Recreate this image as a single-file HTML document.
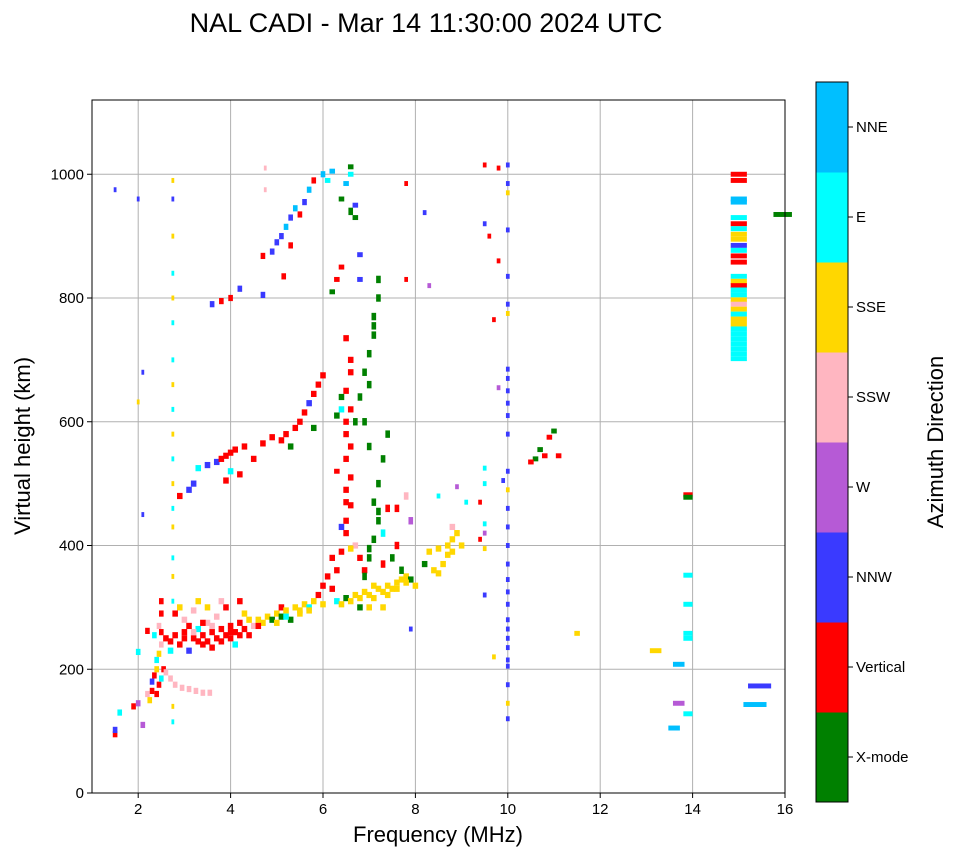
<!DOCTYPE html>
<html><head><meta charset="utf-8"><style>
body{margin:0;background:#fff;font-family:"Liberation Sans",sans-serif}
svg text{font-family:"Liberation Sans",sans-serif;fill:#000}
</style></head><body>
<svg id="chart" width="958" height="857" xmlns="http://www.w3.org/2000/svg">
<rect width="958" height="857" fill="#fff"/>
<text x="426" y="32" font-size="27" text-anchor="middle">NAL CADI - Mar 14 11:30:00 2024 UTC</text>
<g id="grid"></g><g id="marks"></g><g id="axes"></g><g id="cbar"></g>
<text x="438" y="842" font-size="22" text-anchor="middle">Frequency (MHz)</text>
<text transform="translate(30,446) rotate(-90)" font-size="22" text-anchor="middle">Virtual height (km)</text>
<text transform="translate(943,442) rotate(-90)" font-size="22" text-anchor="middle">Azimuth Direction</text>
</svg>
<script>
const xTicks=[2,4,6,8,10,12,14,16];
const yTicks=[0,200,400,600,800,1000];
const dirLabels=["X-mode","Vertical","NNW","W","SSW","SSE","E","NNE"];
const dirColors=["#008000","#ff0000","#3a3aff","#b65ad6","#ffb6c1","#ffd700","#00ffff","#00bfff"];
const lowTrace=[[1.5,95,1],[1.5,102,2],[1.6,130,6],[1.9,140,1],[2.0,145,3],[2.0,228,6],[2.1,110,3],[2.2,160,4],[2.25,150,5],[2.3,165,1],[2.3,180,2],[2.35,190,1],[2.4,200,5],[2.4,215,6],[2.45,225,5],[2.45,175,1],[2.5,240,4],[2.5,260,1],[2.5,290,1],[2.5,310,1],[2.55,200,1],[2.7,185,4],[2.8,175,4],[2.95,170,4],[3.1,168,4],[3.25,165,4],[3.4,162,4],[3.55,162,4],[2.35,255,6],[2.2,262,1],[2.45,270,4],[2.4,160,1],[2.5,185,6],[2.6,195,4]];
const fTrace=[[2.6,250,1],[2.7,245,1],[2.8,255,1],[2.9,240,1],[3.0,260,1],[3.0,280,4],[3.1,270,1],[3.2,250,1],[3.3,265,6],[3.3,245,1],[3.4,255,1],[3.5,245,1],[3.5,275,4],[3.6,260,1],[3.7,250,1],[3.7,285,4],[3.8,265,1],[3.9,255,1],[3.9,300,1],[4.0,270,1],[4.0,250,1],[4.1,260,1],[4.2,275,1],[4.3,265,1],[4.3,290,5],[4.4,255,1],[4.5,270,4],[4.6,280,5],[4.7,275,5],[4.8,285,5],[4.9,280,0],[5.0,290,5],[5.1,285,0],[5.1,300,1],[5.2,295,5],[5.3,280,0],[5.4,300,5],[5.5,295,5],[5.6,305,5],[5.7,300,6],[5.8,310,5],[5.9,320,1],[6.0,335,1],[6.0,305,5],[6.1,350,1],[2.9,300,5],[3.2,295,4],[3.5,300,5],[3.8,310,4],[4.2,310,1],[2.7,230,6],[3.1,230,2],[3.6,235,1],[4.1,240,6],[2.8,290,1],[3.3,310,5],
[3.0,250,1],[3.4,240,1],[3.6,270,4],[3.8,245,1],[4.0,260,1],[4.2,255,1],[4.4,280,5],[4.6,270,1],[5.0,275,5],[5.2,285,6],[5.5,290,5],[5.7,295,5],[3.2,260,4],[3.4,275,1],
[6.3,310,6],[6.4,305,5],[6.5,315,0],[6.6,310,5],[6.7,320,5],[6.8,315,5],[6.9,325,5],[7.0,320,5],[7.1,315,5],[7.2,330,5],[7.3,325,5],[7.4,335,5],[7.5,330,5],[7.6,340,5],[7.7,345,5],[7.8,350,5],[7.9,345,0],[8.0,335,5],[8.2,370,0],[8.4,360,5],[8.5,355,5],[8.6,370,5],[8.7,385,5],[8.8,390,5],[8.8,410,5],[8.8,430,4],[8.5,395,5],[8.3,390,5],[9.0,400,5],[7.0,300,5],[7.3,300,5],[6.8,300,0],[7.1,335,5],[7.4,320,5],[7.6,330,5],[7.8,340,5],[8.7,400,5],[8.9,420,5]];
const redStreak=[[6.2,330,1],[6.3,360,1],[6.2,380,1],[6.4,390,1],[6.5,420,1],[6.5,440,1],[6.6,465,1],[6.5,490,1],[6.6,510,1],[6.5,540,1],[6.5,580,1],[6.6,620,1],[6.5,650,1],[6.6,700,1],[6.5,735,1],[6.4,640,0],[6.3,610,0],[6.4,620,6],[6.7,400,4],[6.8,380,1],[6.9,360,1],[6.6,395,5],[6.4,430,2],[6.5,470,1],[6.6,560,1],[6.5,600,1],[6.6,680,1]];
const xTrace=[[6.9,350,0],[7.0,380,0],[7.1,410,0],[7.2,440,0],[7.1,470,0],[7.2,500,0],[7.3,540,0],[7.4,580,0],[7.0,560,0],[6.9,600,0],[6.8,640,0],[6.9,680,0],[7.0,710,0],[7.1,740,0],[7.1,770,0],[7.2,800,0],[7.2,830,0],[6.7,600,0],[6.6,940,0],[7.5,380,0],[7.6,400,1],[7.3,420,6],[7.4,460,1],[7.6,460,1],[7.8,480,4],[7.7,360,0],[7.3,370,1],[7.9,440,3],[7.0,395,0],[7.2,455,0],[7.0,660,0],[7.1,755,0]];
const hop2=[[2.9,480,1],[3.1,490,2],[3.2,500,2],[3.3,525,6],[3.5,530,2],[3.7,535,2],[3.8,540,1],[3.9,545,1],[4.0,550,1],[4.1,555,1],[4.3,560,1],[4.5,540,1],[4.7,565,1],[4.9,575,1],[5.1,570,1],[5.2,580,1],[5.4,590,1],[5.5,600,1],[5.6,615,1],[5.7,630,2],[5.8,645,1],[5.9,660,1],[6.0,675,1],[3.9,505,1],[4.2,515,1],[5.3,560,0],[5.8,590,0],[4.0,520,6]];
const hop3=[[3.6,790,2],[3.8,795,1],[4.0,800,1],[4.2,815,2],[4.7,805,2],[4.7,868,1],[4.9,875,2],[5.0,890,2],[5.1,900,2],[5.2,915,7],[5.3,930,2],[5.4,945,7],[5.5,935,1],[5.6,955,2],[5.7,975,7],[5.8,990,1],[6.0,1000,7],[5.3,885,1],[5.15,835,1]];
const col275=[[2.75,990,5],[2.75,960,2],[2.75,900,5],[2.75,840,6],[2.75,800,5],[2.75,760,6],[2.75,700,6],[2.75,660,5],[2.75,620,6],[2.75,580,5],[2.75,540,6],[2.75,500,5],[2.75,460,6],[2.75,430,5],[2.75,380,6],[2.75,350,5],[2.75,310,6],[2.75,140,5],[2.75,115,6],[2.0,960,2],[1.5,975,2],[2.1,680,2],[2.0,632,5],[2.1,450,2],[4.75,1010,4],[4.75,975,4]];
const col10=[[10,1015,2],[10,985,2],[10,970,5],[10,910,2],[10,835,2],[10,790,2],[10,775,5],[10,685,2],[10,670,2],[10,650,2],[10,630,2],[10,610,2],[10,580,2],[10,520,2],[10,490,5],[10,460,2],[10,430,2],[10,400,2],[10,370,2],[10,345,2],[10,325,2],[10,305,2],[10,280,2],[10,265,2],[10,250,2],[10,235,2],[10,215,2],[10,205,2],[10,175,2],[10,145,5],[10,120,2],[9.5,1015,1],[9.8,1010,1],[9.5,920,2],[9.6,900,1],[9.8,860,1],[9.7,765,1],[9.8,655,3],[9.5,525,6],[9.5,500,6],[9.4,470,1],[9.5,435,6],[9.5,420,3],[9.4,410,1],[9.5,395,5],[9.5,320,2],[9.7,220,5],[9.1,470,6],[8.9,495,3],[8.5,480,6],[7.8,830,1],[7.8,985,1],[8.2,938,2],[8.3,820,3],[7.9,265,2],[9.9,505,2]];
const col15=[[15,1000,1],[15,990,1],[15,960,7],[15,955,7],[15,930,6],[15,920,1],[15,912,6],[15,903,5],[15,895,5],[15,885,2],[15,877,6],[15,868,1],[15,858,1],[15,835,6],[15,827,5],[15,820,1],[15,813,6],[15,805,6],[15,797,5],[15,790,4],[15,782,5],[15,774,6],[15,766,5],[15,758,5],[15,750,6],[15,742,6],[15,734,6],[15,726,6],[15,718,6],[15,710,6],[15,702,6]];
const misc=[[10.6,540,0],[10.7,555,0],[10.8,545,1],[11.1,545,1],[11.0,585,0],[10.9,575,1],[10.5,535,1],[13.9,482,1,0.2],[13.9,478,0,0.2],[13.9,352,6,0.2],[13.9,305,6,0.2],[13.9,258,6,0.2],[13.9,250,6,0.2],[13.7,208,7,0.25],[13.7,145,3,0.25],[13.6,105,7,0.25],[13.9,128,6,0.2],[13.2,230,5,0.25],[11.5,258,5],[15.45,173,2,0.5],[15.35,143,7,0.5],[15.95,935,0,0.4],[6.2,1005,7],[6.1,990,6],[6.6,1012,0],[6.6,1000,6],[6.5,985,7],[6.7,950,2],[6.7,930,0],[6.4,960,0],[6.4,850,1],[6.3,830,1],[6.2,810,0],[6.8,870,2],[6.8,830,2],[6.3,520,1]];

const L=92,R=785,T=100,B=793,NS="http://www.w3.org/2000/svg";
const xs=f=>L+(f-1)/15*(R-L);
const ys=h=>B-h/1120*(B-T);
function mk(tag,attrs,parent){const e=document.createElementNS(NS,tag);for(const k in attrs)e.setAttribute(k,attrs[k]);document.getElementById(parent).appendChild(e);return e;}
xTicks.forEach(t=>{const l=mk('line',{x1:xs(t),x2:xs(t),y1:T,y2:B,stroke:'#b0b0b0','stroke-width':1},'grid');


mk('line',{x1:xs(t),x2:xs(t),y1:B,y2:B+5,stroke:'#000'},'axes');
const tx=mk('text',{x:xs(t),y:B+21,'font-size':15,'text-anchor':'middle'},'axes');tx.textContent=t;

});
yTicks.forEach(t=>{const l=mk('line',{x1:L,x2:R,y1:ys(t),y2:ys(t),stroke:'#b0b0b0','stroke-width':1},'grid');


mk('line',{x1:L-5,x2:L,y1:ys(t),y2:ys(t),stroke:'#000'},'axes');
const tx=mk('text',{x:L-8,y:ys(t)+5,'font-size':15,'text-anchor':'end'},'axes');tx.textContent=t;

});
const frame=mk('rect',{x:L,y:T,width:R-L,height:B-T,fill:'none',stroke:'#000','stroke-width':1},'axes');


function draw(arr,w,hk,name){arr.forEach(p=>{const ww=(p[3]||w);const x0=xs(p[0]-ww/2),x1=xs(p[0]+ww/2);
const r=mk('rect',{x:x0,y:ys(p[1]+hk),width:x1-x0,height:ys(p[1]-hk)-ys(p[1]+hk),fill:dirColors[p[2]]},'marks');

});}
draw(lowTrace,0.1,5,'echo-low-trace');draw(fTrace,0.12,5,'echo-f-trace');draw(redStreak,0.12,5,'echo-vertical-streak');
draw(xTrace,0.1,6,'echo-x-mode');draw(hop2,0.12,5,'echo-second-hop');draw(hop3,0.1,5,'echo-third-hop');
draw(col275,0.06,4,'echo-column');draw(col10,0.08,4,'echo-10mhz');draw(col15,0.35,4,'echo-15mhz');draw(misc,0.12,4,'echo-misc');
// colorbar
const cx=816,cw=32,ct=82,cb=802,bh=(cb-ct)/8;
dirLabels.forEach((lab,i)=>{const y=cb-(i+1)*bh;
const r=mk('rect',{x:cx,y:y,width:cw,height:bh+0.5,fill:dirColors[i]},'cbar');


mk('line',{x1:cx+cw,x2:cx+cw+5,y1:y+bh/2,y2:y+bh/2,stroke:'#000'},'cbar');
const tx=mk('text',{x:cx+cw+8,y:y+bh/2+5,'font-size':15},'cbar');tx.textContent=lab;

});
mk('rect',{x:cx,y:ct,width:cw,height:cb-ct,fill:'none',stroke:'#000'},'cbar');
</script>
</body></html>
